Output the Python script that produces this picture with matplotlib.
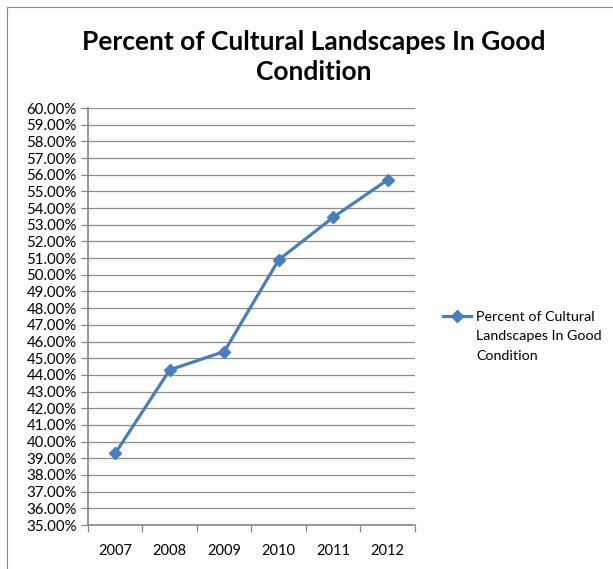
import matplotlib
matplotlib.use("Agg")
import matplotlib.pyplot as plt
from matplotlib.ticker import FuncFormatter, FixedLocator
from matplotlib.patches import Rectangle

years = ["2007", "2008", "2009", "2010", "2011", "2012"]
values = [39.3, 44.3, 45.4, 50.9, 53.45, 55.7]
series_lines = ["Percent of Cultural", "Landscapes In Good", "Condition"]
title = "Percent of Cultural Landscapes In Good\nCondition"

plt.rcParams['font.family'] = ['Lato', 'DejaVu Sans']

fig = plt.figure(figsize=(6.13, 5.69), dpi=100)
fig.patch.set_facecolor('white')
fig.patches.append(Rectangle((7/613, -0.01), 1.0, 1 - 7/569 + 0.01, transform=fig.transFigure,
                             fill=False, edgecolor='#868686', linewidth=0.8))

ax = fig.add_axes([88/613, 1 - 525/569, (415 - 88)/613, (525 - 108)/569])
x = list(range(len(years)))
ax.plot(x, values, color='#4A7EBB', linewidth=2.3, marker='D', markersize=6.5,
        markerfacecolor='#4A7EBB', markeredgecolor='#4A7EBB', label=series_lines[0])

ax.set_xlim(-0.5, len(years) - 0.5)
ax.set_ylim(35, 60)
ax.set_yticks(range(35, 61))
ax.yaxis.set_major_formatter(FuncFormatter(lambda v, p: f"{v:.2f}%"))
ax.grid(axis='y', color='#8C8C8C', linewidth=0.9)
ax.set_axisbelow(True)

ax.set_xticks(x)
ax.set_xticklabels(years)
ax.xaxis.set_minor_locator(FixedLocator([i - 0.5 for i in range(len(years) + 1)]))
ax.tick_params(axis='x', which='major', length=0, pad=14, labelsize=10.5, colors='black')
ax.tick_params(axis='x', which='minor', length=5, color='#868686', width=0.9)
ax.tick_params(axis='y', length=5, color='#868686', width=0.9, labelsize=10.8, pad=3)

for s in ['top', 'right']:
    ax.spines[s].set_visible(False)
for s in ['left', 'bottom']:
    ax.spines[s].set_color('#868686')
    ax.spines[s].set_linewidth(1.2)

fig.text(314/613, 1 - 57/569, title, ha='center', va='center', fontsize=19,
         fontweight='bold', linespacing=1.25)

leg = fig.legend(loc='upper left', bbox_to_anchor=(437/613, 1 - 305/569), frameon=False,
                 fontsize=10.3, handlelength=2.0, handletextpad=0.35, borderaxespad=0)

fig.canvas.draw()
bb = leg.get_texts()[0].get_window_extent()
inv = fig.transFigure.inverted()
x0, y0 = inv.transform((bb.x0, bb.y0))
line_h = 19.5 / 569
for i, s in enumerate(series_lines[1:], start=1):
    fig.text(x0, y0 - i * line_h, s, ha='left', va='bottom', fontsize=10.3)

fig.savefig("out.png", dpi=100)
